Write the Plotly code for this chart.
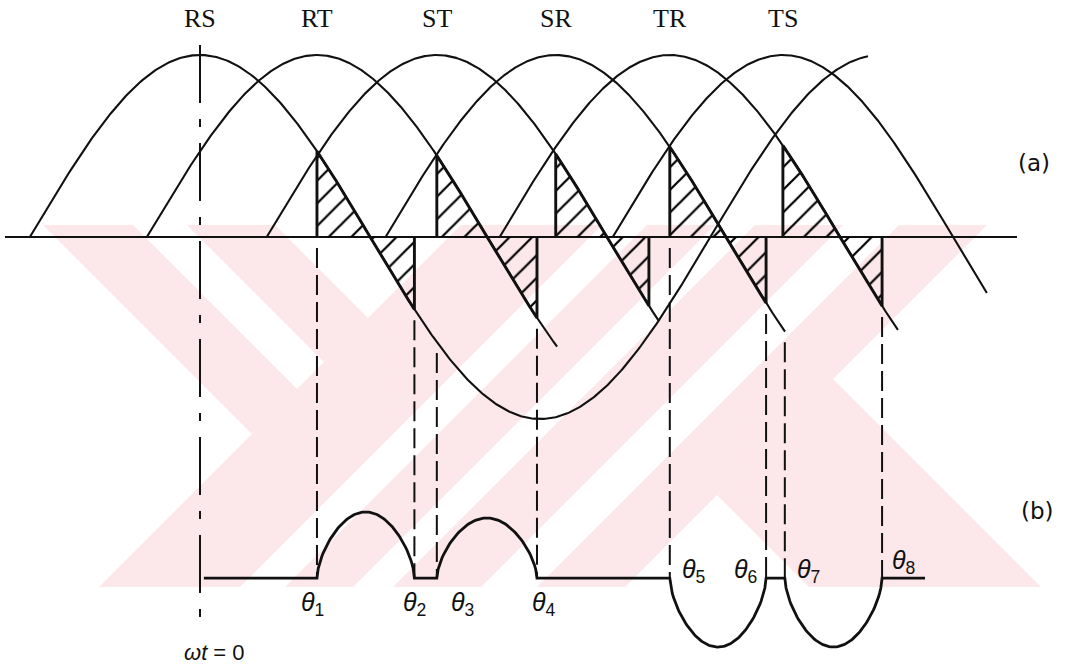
import numpy as np
import plotly.graph_objects as go

# ---------------------------------------------------------------- data
# Line voltages, named by the phase pair, with the angle (electrical
# degrees, ωt) of their positive peak.
phase_names = ["RS", "RT", "ST", "SR", "TR", "TS"]
phase_peak_deg = [0.0, 60.5, 122.5, 184.0, 243.0, 301.5]
quarter_deg = 88.0  # peak to zero crossing

# span over which each voltage trace is drawn
trace_from_deg = [-88.0, -27.5, 34.5, 96.0, 155.0, 213.5]
trace_to_deg = [345.5, 184.7, 237.4, 302.6, 361.0, 407.0]

# angles θ1 .. θ8
theta_deg = [60.5, 110.9, 122.5, 174.3, 243.0, 292.8, 302.5, 352.8]

# hatched areas: voltage index, start of the area above zero,
# and end of the area below zero
area_phase = [0, 1, 2, 3, 4]
area_start_deg = [60.5, 122.5, 184.0, 243.0, 301.5]
area_stop_deg = [110.9, 174.3, 232.2, 292.8, 352.8]

# (b) pulse train: start, end, direction and height (per unit)
pulse_from_deg = [60.5, 122.5, 243.0, 302.5]
pulse_to_deg = [110.9, 174.3, 292.8, 352.8]
pulse_sign = [1, 1, -1, -1]
pulse_height = [0.363, 0.330, 0.379, 0.379]
pulse_level = -1.874
pulse_span_deg = [2.0, 375.0]

# ------------------------------------------------------------- geometry
W, H = 1073, 671
X0_PX, PX_PER_DEG = 200.0, 116.0 / 60.0
AXIS_PX, AMP_PX = 237.0, 182.0
x_range = [-X0_PX / PX_PER_DEG, (W - X0_PX) / PX_PER_DEG]
y_range = [(AXIS_PX - H) / AMP_PX, AXIS_PX / AMP_PX]


def deg_of_px(px):
    return (px - X0_PX) / PX_PER_DEG


def val_of_px(py):
    return (AXIS_PX - py) / AMP_PX


def voltage(k, deg):
    return np.cos(np.radians((np.asarray(deg) - phase_peak_deg[k]) * 90.0 / quarter_deg))


def zero_down(k):
    return phase_peak_deg[k] + quarter_deg


fig = go.Figure()
BLACK = "#111111"

# ------------------------------------------------------ background mark
WM_TOP, WM_BOTTOM = 225, 587


def clip(poly, a, b, c):
    out = []
    n = len(poly)
    for i in range(n):
        p, q = poly[i], poly[(i + 1) % n]
        fp = a * p[0] + b * p[1] - c
        fq = a * q[0] + b * q[1] - c
        if fp <= 0:
            out.append(p)
        if fp * fq < 0:
            t = fp / (fp - fq)
            out.append((p[0] + t * (q[0] - p[0]), p[1] + t * (q[1] - p[1])))
    return out


def u_min(k):
    return (-1, 1, -k)


def u_max(k):
    return (1, -1, k)


def v_min(k):
    return (-1, -1, -k)


def v_max(k):
    return (1, 1, k)


# diagonal bands: u = x - y ("\" bands), v = x + y ("/" bands), page pixels
wm_pieces = [
    [u_min(-182), u_max(-92), v_max(686)],
    [u_min(-38), u_max(50), v_max(686)],
    [v_min(686), v_max(827)],
    [v_min(872), v_max(940)],
    [v_min(980), v_max(1068)],
    [v_min(1124), v_max(1212)],
    [u_min(222), u_max(454), v_min(1212)],
]
for piece in wm_pieces:
    poly = [(0, WM_TOP), (W, WM_TOP), (W, WM_BOTTOM), (0, WM_BOTTOM)]
    for a, b, c in piece:
        poly = clip(poly, a, b, c)
        if not poly:
            break
    if len(poly) < 3:
        continue
    path = "M " + " L ".join(f"{x / W:.5f},{1 - y / H:.5f}" for x, y in poly) + " Z"
    fig.add_shape(type="path", path=path, xref="paper", yref="paper",
                  fillcolor="#fce7eb", line=dict(width=0), layer="below")

# ---------------------------------------------------------- zero axis
fig.add_trace(go.Scatter(x=[deg_of_px(5), deg_of_px(1017)], y=[0, 0], mode="lines",
                         line=dict(color=BLACK, width=2)))

# ------------------------------------------------------- voltage traces
for k in range(len(phase_names)):
    d = np.linspace(trace_from_deg[k], trace_to_deg[k], 500)
    fig.add_trace(go.Scatter(x=d, y=voltage(k, d), mode="lines",
                             line=dict(color=BLACK, width=2.1)))

# ------------------------------------------------------- hatched areas
hatch = dict(shape="/", size=16, solidity=0.14, fgcolor="#000000", fgopacity=1,
             bgcolor="rgba(0,0,0,0)", fillmode="overlay")
for k, a0, a1 in zip(area_phase, area_start_deg, area_stop_deg):
    z = zero_down(k)
    # above the axis: from a0 up to the trace, down to the zero crossing
    d_up = np.linspace(a0, z, 80)
    fig.add_trace(go.Scatter(x=np.concatenate([[a0], d_up, [a0]]),
                             y=np.concatenate([[0.0], voltage(k, d_up), [0.0]]),
                             mode="none", fill="toself", fillcolor="rgba(0,0,0,0)",
                             fillpattern=hatch))
    fig.add_trace(go.Scatter(x=np.concatenate([[a0], d_up]),
                             y=np.concatenate([[0.0], voltage(k, d_up)]),
                             mode="lines", line=dict(color=BLACK, width=2.9)))
    # below the axis: from the zero crossing down the trace to a1
    d_dn = np.linspace(z, a1, 60)
    fig.add_trace(go.Scatter(x=np.concatenate([d_dn, [a1, z]]),
                             y=np.concatenate([voltage(k, d_dn), [0.0, 0.0]]),
                             mode="none", fill="toself", fillcolor="rgba(0,0,0,0)",
                             fillpattern=hatch))
    fig.add_trace(go.Scatter(x=np.concatenate([d_dn, [a1]]),
                             y=np.concatenate([voltage(k, d_dn), [0.0]]),
                             mode="lines", line=dict(color=BLACK, width=2.9)))

# ---------------------------------------------------- ωt = 0 reference
fig.add_trace(go.Scatter(x=[0, 0], y=[val_of_px(45), val_of_px(620)], mode="lines",
                         line=dict(color=BLACK, width=2, dash="58px,16px,8px,16px")))

# ------------------------------------------------- θ projection lines
for t in theta_deg:
    top = 0.0
    for k in range(len(phase_names)):
        if trace_from_deg[k] <= t <= trace_to_deg[k]:
            v = float(voltage(k, t))
            if v < 0 and zero_down(k) < t < zero_down(k) + 40:
                top = min(top, v)
    fig.add_trace(go.Scatter(x=[t, t], y=[top - 0.06, pulse_level], mode="lines",
                             line=dict(color=BLACK, width=2, dash="20px,7px")))

# ---------------------------------------------------------- pulse train
px, py = [pulse_span_deg[0]], [pulse_level]
for a, b, s, h in zip(pulse_from_deg, pulse_to_deg, pulse_sign, pulse_height):
    tt = np.linspace(0, 1, 80)
    px.extend(list(a + (b - a) * tt))
    py.extend(list(pulse_level + s * h * np.sin(np.pi * tt) ** 0.6))
px.append(pulse_span_deg[1])
py.append(pulse_level)
fig.add_trace(go.Scatter(x=px, y=py, mode="lines", line=dict(color=BLACK, width=2.8)))

# --------------------------------------------------------------- labels
ann = []
for name, p in zip(phase_names, phase_peak_deg):
    ann.append(dict(x=p, y=val_of_px(18), text=name, showarrow=False,
                    font=dict(family="Liberation Serif", size=26, color=BLACK)))

theta_shift = [(-4, 604), (0, 604), (26, 604), (7, 604),
               (24, 571), (-21, 571), (24, 571), (21, 562)]
for i, (t, (dxp, ypx)) in enumerate(zip(theta_deg, theta_shift)):
    ann.append(dict(x=t, y=val_of_px(ypx), xshift=dxp,
                    text=f"<i>θ</i><sub>{i + 1}</sub>", showarrow=False,
                    font=dict(family="Liberation Sans", size=25, color=BLACK)))

ann.append(dict(x=deg_of_px(214), y=val_of_px(652), text="<i>ωt</i> = 0", showarrow=False,
                font=dict(family="Liberation Sans", size=22, color=BLACK)))
ann.append(dict(x=deg_of_px(1034), y=val_of_px(163), text="(a)", showarrow=False,
                font=dict(family="DejaVu Sans", size=23, color=BLACK)))
ann.append(dict(x=deg_of_px(1037), y=val_of_px(511), text="(b)", showarrow=False,
                font=dict(family="DejaVu Sans", size=23, color=BLACK)))

fig.update_layout(
    width=W, height=H, autosize=False,
    margin=dict(l=0, r=0, t=0, b=0),
    paper_bgcolor="white", plot_bgcolor="white",
    showlegend=False, hovermode=False,
    xaxis=dict(range=x_range, visible=False, fixedrange=True),
    yaxis=dict(range=y_range, visible=False, fixedrange=True),
    annotations=ann,
)

fig.write_html("out.html")
